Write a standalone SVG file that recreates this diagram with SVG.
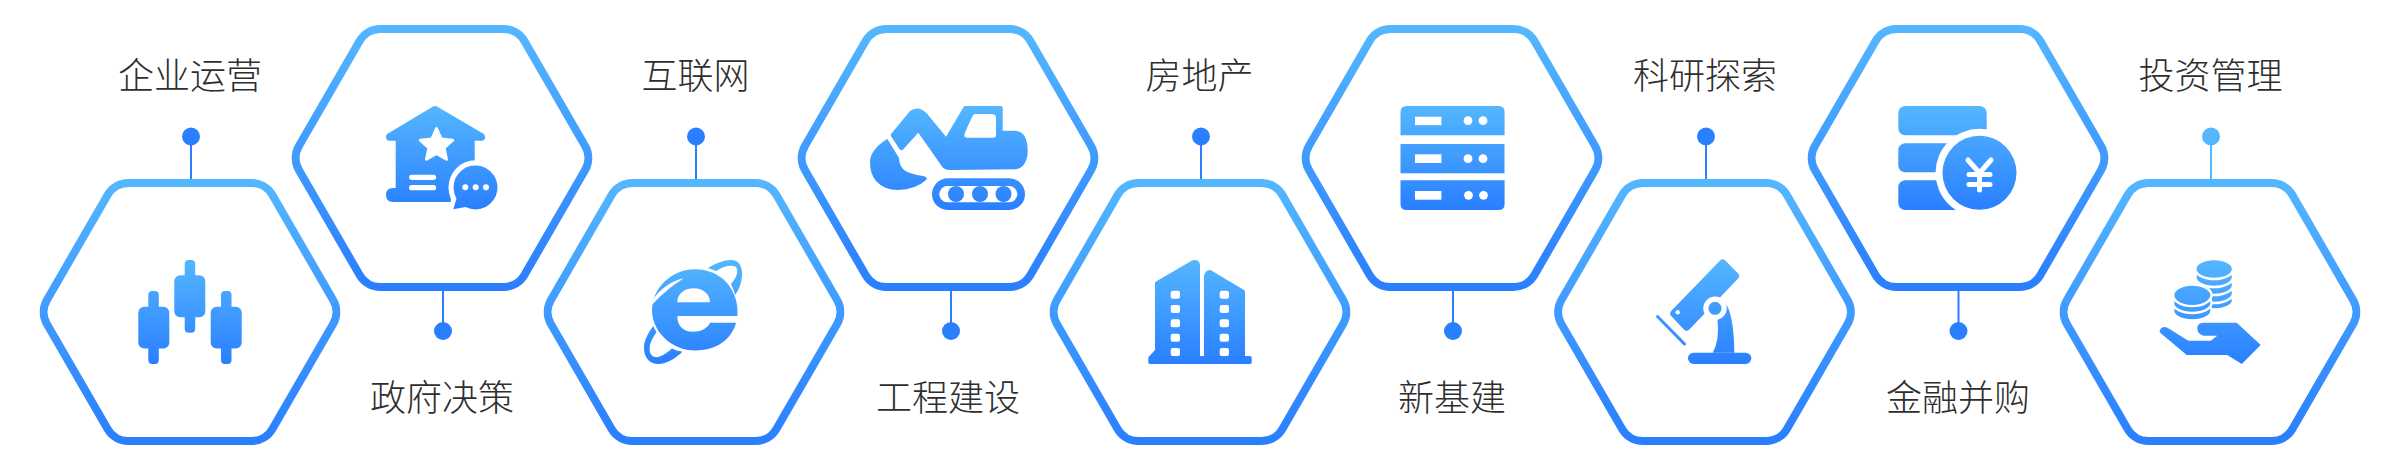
<svg xmlns="http://www.w3.org/2000/svg" xmlns:xlink="http://www.w3.org/1999/xlink" width="2400" height="468" viewBox="0 0 2400 468">
<style>
.hex{fill:#fff;stroke:url(#gh);stroke-width:8}
.lab{font-family:"Noto Sans CJK SC","Noto Sans",sans-serif;font-size:36px;font-weight:300;fill:#2e2e2e;text-anchor:middle}
.up{fill:url(#gu)}
.lo{fill:url(#gl)}
.w{fill:#fff}
.stem{stroke:#2a7fff;stroke-width:2;fill:none}
.dot{fill:#2a7fff}
.ws{fill:none;stroke:#fff;stroke-linecap:round;stroke-linejoin:round}
</style>
<defs>
<linearGradient id="gh" x1="0" y1="0" x2="0" y2="1"><stop offset="0" stop-color="#54b6ff"/><stop offset="1" stop-color="#2a7fff"/></linearGradient>
<linearGradient id="gu" gradientUnits="userSpaceOnUse" x1="0" y1="106" x2="0" y2="210"><stop offset="0" stop-color="#54b6ff"/><stop offset="1" stop-color="#2a7fff"/></linearGradient>
<linearGradient id="gl" gradientUnits="userSpaceOnUse" x1="0" y1="260" x2="0" y2="364"><stop offset="0" stop-color="#54b6ff"/><stop offset="1" stop-color="#2a7fff"/></linearGradient>
<path id="hx" class="hex" d="M-61.600 -129H61.600A24 24 0 0 1 82.400 -117L143.100 -12A24 24 0 0 1 143.100 12L82.400 117A24 24 0 0 1 61.600 129H-61.600A24 24 0 0 1 -82.400 117L-143.100 12A24 24 0 0 1 -143.100 -12L-82.400 -117A24 24 0 0 1 -61.600 -129Z"/>
</defs>
<rect width="2400" height="468" fill="#fff"/>
<g id="connectors">
<path class="stem" d="M191 137V179M443 291V331M696 137V179M951 291V331M1201 137V179M1453 291V331M1706 137V179M1958.500 291V331"/>
<path d="M2211 137V179" fill="none" stroke="#54b6ff" stroke-width="2"/>
<circle class="dot" cx="191" cy="136.500" r="9"/>
<circle class="dot" cx="443" cy="331" r="9"/>
<circle class="dot" cx="696" cy="136.500" r="9"/>
<circle class="dot" cx="951" cy="331" r="9"/>
<circle class="dot" cx="1201" cy="136.500" r="9"/>
<circle class="dot" cx="1453" cy="331" r="9"/>
<circle class="dot" cx="1706" cy="136.500" r="9"/>
<circle class="dot" cx="1958.500" cy="331" r="9"/>
<circle cx="2211" cy="136.500" r="9" fill="#54b6ff"/>
</g>
<g id="node-enterprise">
<use href="#hx" x="190" y="312"/>
<g class="lo">
<rect x="148.300" y="291" width="10.500" height="73" rx="4"/><rect x="138.300" y="306.700" width="31" height="41.700" rx="6"/>
<rect x="184.700" y="260" width="10.500" height="72.700" rx="4"/><rect x="174.300" y="275.300" width="31" height="42" rx="6"/>
<rect x="221" y="291" width="10.500" height="73" rx="4"/><rect x="210.700" y="306.700" width="31" height="41.700" rx="6"/>
</g>
<text class="lab" x="190" y="89">企业运营</text>
</g>
<g id="node-government">
<use href="#hx" x="442" y="158"/>
<path class="up" d="M433 106.500Q435 105.300 437 106.500L483 133.500Q485.500 135 485 138Q484.500 140.700 481.500 140.700H474.700V180H452L450.700 202H393Q386 202 386 195Q386 188 393 188H395.700V140.700H389Q386.500 140.700 386 138Q385.500 135 388 133.500Z"/>
<circle class="w" cx="475.500" cy="187.300" r="27"/>
<path d="M453.300 209.300L456.500 198.500A22 22 0 1 1 465.500 207Z" class="up"/>
<polygon points="436.500,128.500 441.200,139 452.700,140.200 444.100,148 446.500,159.300 436.500,153.500 426.500,159.300 428.900,148 420.300,140.200 431.800,139" fill="#fff" stroke="#fff" stroke-width="3" stroke-linejoin="round"/>
<path class="ws" stroke-width="5.300" d="M411.700 177.300H433.500M411.700 187.700H433.500"/>
<circle class="w" cx="465.300" cy="187.300" r="3"/><circle class="w" cx="475.700" cy="187.300" r="3"/><circle class="w" cx="486" cy="187.300" r="3"/>
<text class="lab" x="442" y="411">政府决策</text>
</g>
<g id="node-internet">
<use href="#hx" x="694" y="312"/>
<path class="lo" d="M708 268C716 263 724 260 731 260C739 260 742 266 742 274C742 282 739 290 735 295C734 290 732 287 731 284C736 278 738 273 737 269C736 264 725 265 716 271C713 270 711 269 708 268Z"/>
<path class="lo" d="M653.500 326C647 334 643.500 342 644 349C644.500 359 651 364 658 364C667 364 676 358 682.500 351.700C678 351 675 350 672 348.500C667 353 660 358 655 357C650 356 649 351 650 345C651 340 654 336 656.500 332C655 330 654 328 653.500 326Z"/>
<path class="lo" d="M695 269.300C720 269.300 737.500 288 737.500 312C737.500 335 720 350.500 695 350.500C672 350.500 652 332 652 310C652 288 672 269.300 695 269.300Z"/>
<path class="w" d="M649 308C654 293 668 282 684 278C670 287 660 296 649 308Z"/>
<path class="w" d="M677.300 302.300C677.300 294 684 288.300 693.500 288.300C703 288.300 710 294 710 302.300Z"/>
<path class="w" d="M677.300 316H739V322.700H710C707 329 701 331.700 693 331.700C683 331.700 677.300 326 677.300 316Z"/>
<text class="lab" x="695.500" y="89">互联网</text>
</g>
<g id="node-engineering">
<use href="#hx" x="948" y="158"/>
<path class="up" d="M965 106H1000.700Q1002.700 106 1002.700 108V130.700H1014C1023 130.700 1027.700 138 1027.700 150C1027.700 162 1023 169.300 1014 169.300L950 170Q944 170 941.700 166L918.300 132.700L903 149.500Q901 151 899.500 149L891.500 137Q890 135 891.500 133.500L910 111Q913.300 108.500 917 108.500Q922 108.500 926.700 113.300L946 136.700L963 108Q964 106 965 106Z"/>
<path class="w" d="M975 114H991.300Q996 114 996 117.500V135Q996 137.700 993 137.700H967Q963 137.700 965 132.500L972 117Q973.500 114 975 114Z"/>
<path class="up" d="M886.700 139.300Q887.500 138.500 888 140L899 158Q899 165 904 170Q910 174 923 176Q927.500 177 926.700 179.500Q915 190 898 190Q884 190 876 181Q870 174 870 162Q870 150 886.700 139.300Z"/>
<rect class="up" x="932" y="178.300" width="93" height="31.700" rx="15.800"/>
<rect class="w" x="939.300" y="186" width="78" height="16.300" rx="8.150"/>
<circle class="up" cx="956" cy="194" r="8"/><circle class="up" cx="980" cy="194" r="8"/><circle class="up" cx="1003.500" cy="194" r="8"/>
<text class="lab" x="948" y="411">工程建设</text>
</g>
<g id="node-realestate">
<use href="#hx" x="1200" y="312"/>
<path class="lo" d="M1155 283Q1155 282 1156 281.500L1192 260.500Q1200 258 1200 266V356H1204V278Q1204 270 1210.500 270L1244 290Q1245 291 1245 292V356H1250Q1251.700 356 1251.700 358V362Q1251.700 364 1250 364H1150Q1148.300 364 1148.300 362V358Q1148.300 357 1149 356.500L1155 350Z"/>
<g class="w">
<rect x="1170.700" y="290.700" width="9.300" height="8" rx="2"/><rect x="1170.700" y="305" width="9.300" height="8" rx="2"/><rect x="1170.700" y="319.300" width="9.300" height="8" rx="2"/><rect x="1170.700" y="333.700" width="9.300" height="8" rx="2"/><rect x="1170.700" y="348" width="9.300" height="8" rx="2"/>
<rect x="1219.700" y="290.700" width="9.300" height="8" rx="2"/><rect x="1219.700" y="305" width="9.300" height="8" rx="2"/><rect x="1219.700" y="319.300" width="9.300" height="8" rx="2"/><rect x="1219.700" y="333.700" width="9.300" height="8" rx="2"/><rect x="1219.700" y="348" width="9.300" height="8" rx="2"/>
</g>
<text class="lab" x="1199.500" y="89">房地产</text>
</g>
<g id="node-newinfra">
<use href="#hx" x="1452" y="158"/>
<path class="up" d="M1406.500 106H1498.600Q1504.600 106 1504.600 112V135.300H1400.500V112Q1400.500 106 1406.500 106Z"/>
<rect class="up" x="1400.500" y="144" width="104" height="29.300"/>
<path class="up" d="M1400.500 180.300H1504.600V204Q1504.600 210 1498.600 210H1406.500Q1400.500 210 1400.500 204Z"/>
<g class="w">
<rect x="1415" y="116.700" width="26.400" height="8.500"/><rect x="1415" y="154.300" width="26.400" height="8.700"/><rect x="1415" y="191" width="26.400" height="8.700"/>
<circle cx="1468" cy="120.700" r="4.400"/><circle cx="1483" cy="120.700" r="4.400"/>
<circle cx="1468" cy="158.700" r="4.400"/><circle cx="1483" cy="158.700" r="4.400"/>
<circle cx="1468.500" cy="195.300" r="4.400"/><circle cx="1483.500" cy="195.300" r="4.400"/>
</g>
<text class="lab" x="1452" y="411">新基建</text>
</g>
<g id="node-research">
<use href="#hx" x="1704.500" y="312"/>
<path class="lo" d="M1726.700 305Q1734 318 1734.300 352.700H1712.700Q1720 340 1717.300 318Z"/>
<rect class="lo" x="1688" y="352.700" width="63.300" height="11.300" rx="5.650"/>
<path class="lo" d="M1722.700 263.500L1735 276L1686.700 326.500L1674.300 313.500Z" stroke="url(#gl)" stroke-width="8" stroke-linejoin="round"/>
<circle class="w" cx="1677.700" cy="312.300" r="2.200"/>
<circle class="w" cx="1715" cy="308.300" r="11.700"/>
<circle class="lo" cx="1715" cy="308.300" r="6.500"/>
<path d="M1657.500 316.500L1684.500 344" stroke="url(#gl)" stroke-width="3" stroke-linecap="round" fill="none"/>
<text class="lab" x="1705" y="89">科研探索</text>
</g>
<g id="node-finance">
<use href="#hx" x="1958" y="158"/>
<rect class="up" x="1898.300" y="106" width="88.400" height="29.300" rx="7"/>
<rect class="up" x="1898.300" y="143.300" width="70" height="29" rx="7"/>
<rect class="up" x="1898.300" y="180.300" width="70" height="29.700" rx="7"/>
<circle class="w" cx="1979.500" cy="172.800" r="44"/>
<circle class="up" cx="1979.500" cy="172.800" r="37"/>
<path class="ws" stroke-width="5" d="M1968 160L1979.500 173L1991 160M1969 174.500H1990M1969 184.500H1990M1979.500 173V190"/>
<text class="lab" x="1958" y="411">金融并购</text>
</g>
<g id="node-investment">
<use href="#hx" x="2210" y="312"/>
<g class="lo" stroke="#fff" stroke-width="2.400">
<ellipse cx="2214.200" cy="300.500" rx="18.800" ry="9"/>
<ellipse cx="2214.200" cy="293" rx="18.800" ry="10"/>
<ellipse cx="2214.200" cy="285" rx="18.800" ry="10"/>
<ellipse cx="2214.200" cy="277" rx="18.800" ry="10"/>
<ellipse cx="2214.200" cy="269" rx="18.800" ry="10"/>
<ellipse cx="2192.300" cy="310.500" rx="19.200" ry="10"/>
<ellipse cx="2192.300" cy="303" rx="19.200" ry="10"/>
<ellipse cx="2192.300" cy="295.300" rx="19.200" ry="10.800"/>
</g>
<path class="lo" d="M2160.500 333Q2158.500 331 2161 328.500Q2164 326 2167.500 327.800L2188.300 340.700H2210.700L2217.300 335.700H2203.300Q2197.300 334 2197.300 328.300Q2197.300 323 2203.300 322.700H2236.700L2260.700 345L2241.700 364L2227.300 355H2186.700Z"/>
<text class="lab" x="2210.500" y="89">投资管理</text>
</g>
</svg>
